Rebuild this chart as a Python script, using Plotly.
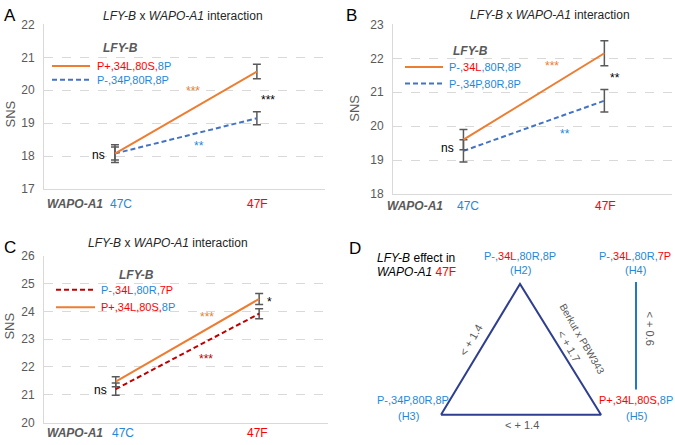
import plotly.graph_objects as go

W, H = 675, 445
FONT = "Arial, Liberation Sans, sans-serif"
BLUE_T = "#1F88D8"
RED_T = "#FF0000"
GRAY = "#595959"
ORANGE = "#ED7D31"
BLUE_L = "#4472C4"
DRED = "#C00000"
NAVY = "#2F3F8F"
DASH = "5px,3px"

# ---------------- data ----------------
genotypes = ["47C", "47F"]

# Panel A
a_pplus_mean = [18.08, 20.57]
a_pplus_err = [0.27, 0.22]
a_pminus_mean = [18.08, 19.15]
a_pminus_err = [0.2, 0.2]

# Panel B
b_34L_mean = [19.6, 22.15]
b_34L_err = [0.3, 0.37]
b_34P_mean = [19.27, 20.75]
b_34P_err = [0.33, 0.33]

# Panel C
c_7P_mean = [21.2, 23.92]
c_7P_err = [0.22, 0.18]
c_pplus_mean = [21.47, 24.45]
c_pplus_err = [0.18, 0.2]

# Panel D: haplotype network effects
effects = [1.4, 1.7, 1.4, 0.6]  # H3-H2, H2-H5, H3-H5, H4-H5


def px(x):
    return x / W


def py(y):
    return 1 - y / H


def sp(text, color):
    return f"<span style='color:{color}'>{text}</span>"


fig = go.Figure()

panels = [
    ("", 44, 325, 18, 188, [17, 22]),
    ("2", 393, 672, 18, 193, [18, 23]),
    ("3", 44, 328, 257, 429, [20, 26]),
]
layout_axes = {}
for suf, x0, x1, yt, yb, yr in panels:
    layout_axes["xaxis" + suf] = dict(
        domain=[px(x0), px(x1)], range=[-0.5, 1.48], type="category",
        showticklabels=False, showgrid=False, zeroline=False,
        showline=True, linecolor="#D9D9D9", linewidth=1, ticks="",
        anchor="y" + suf, fixedrange=True,
    )
    layout_axes["yaxis" + suf] = dict(
        domain=[py(yb), py(yt)], range=yr, dtick=1, tick0=0,
        showgrid=True, gridcolor="#D9D9D9", griddash="dash", gridwidth=1,
        zeroline=False, showline=True, linecolor="#D9D9D9", linewidth=1,
        ticks="", ticklabelstandoff=6,
        tickfont=dict(family=FONT, size=12, color=GRAY),
        anchor="x" + suf, fixedrange=True,
    )
layout_axes["xaxis4"] = dict(domain=[px(335), 1], range=[335, 675], visible=False,
                             anchor="y4", fixedrange=True)
layout_axes["yaxis4"] = dict(domain=[0, py(220)], range=[445, 220], visible=False,
                             anchor="x4", fixedrange=True)


def add_series(xa, ya, means, errs, color, dash):
    fig.add_trace(go.Scatter(
        x=genotypes, y=means, mode="lines", xaxis=xa, yaxis=ya,
        line=dict(color=color, width=2, dash=dash),
        error_y=dict(type="data", array=errs, visible=True, color=GRAY,
                     thickness=1.5, width=4),
        showlegend=False, hoverinfo="skip",
    ))


add_series("x", "y", a_pminus_mean, a_pminus_err, BLUE_L, DASH)
add_series("x", "y", a_pplus_mean, a_pplus_err, ORANGE, "solid")
add_series("x2", "y2", b_34P_mean, b_34P_err, BLUE_L, DASH)
add_series("x2", "y2", b_34L_mean, b_34L_err, ORANGE, "solid")
add_series("x3", "y3", c_7P_mean, c_7P_err, DRED, DASH)
add_series("x3", "y3", c_pplus_mean, c_pplus_err, ORANGE, "solid")

# Panel D network
tri_x = [441, 520, 601, 441]
tri_y = [421, 286, 421, 421]
fig.add_trace(go.Scatter(x=tri_x, y=tri_y, mode="lines", xaxis="x4", yaxis="y4",
                         line=dict(color=NAVY, width=2), showlegend=False,
                         hoverinfo="skip"))
fig.add_trace(go.Scatter(x=[636, 636], y=[284, 395], mode="lines", xaxis="x4",
                         yaxis="y4", line=dict(color="#1F78C8", width=2),
                         showlegend=False, hoverinfo="skip"))

ann = []
shapes = []


def text(x, y, t, size=12, color="#262626", xanchor="center", angle=0):
    ann.append(dict(x=px(x), y=py(y), xref="paper", yref="paper", text=t,
                    showarrow=False, xanchor=xanchor, yanchor="middle",
                    textangle=angle,
                    font=dict(family=FONT, size=size, color=color)))


def legline(x0, x1, y, color, dash):
    shapes.append(dict(type="line", xref="paper", yref="paper",
                       x0=px(x0), x1=px(x1), y0=py(y), y1=py(y),
                       line=dict(color=color, width=2, dash=dash)))


title = "<i>LFY-B</i> x <i>WAPO-A1</i> interaction"
lfy = "<b><i>LFY-B</i></b>"
wapo = "<b><i>WAPO-A1</i></b>"

lab_pplus = sp("P+,34L,80S,", RED_T) + sp("8P", BLUE_T)
lab_34P = sp("P-,34P,80R,8P", BLUE_T)
lab_34L = sp("P-,", BLUE_T) + sp("34L", RED_T) + sp(",80R,8P", BLUE_T)
lab_7P = sp("P-,", BLUE_T) + sp("34L", RED_T) + sp(",80R,", BLUE_T) + sp("7P", RED_T)

# ---- Panel A ----
text(10, 9, "A", size=17, color="#000000")
text(183, 9, title, size=12)
text(11, 110, "SNS", size=13, color=GRAY, angle=-90)
text(120, 42, lfy, size=12, color=GRAY)
legline(52, 90, 61, ORANGE, "solid")
text(95, 61, lab_pplus, size=11, xanchor="left")
legline(52, 90, 75, BLUE_L, DASH)
text(95, 75, lab_34P, size=11, xanchor="left")
text(193, 87, "***", size=12, color=ORANGE)
text(199, 143, "**", size=12, color=BLUE_T)
text(268, 96, "***", size=12, color="#000000")
text(98, 153, "ns", size=12, color="#000000")
text(75, 203, wapo, size=12, color=GRAY)
text(121, 203, "47C", size=12, color=BLUE_T)
text(257, 203, "47F", size=12, color=RED_T)

# ---- Panel B ----
text(352, 9, "B", size=17, color="#000000")
text(550, 8, title, size=12)
text(355, 105, "SNS", size=13, color=GRAY, angle=-90)
text(470, 45, lfy, size=12, color=GRAY)
legline(405, 443, 62, ORANGE, "solid")
text(447, 62, lab_34L, size=11, xanchor="left")
legline(405, 443, 79, BLUE_L, DASH)
text(447, 79, lab_34P, size=11, xanchor="left")
text(552, 61, "***", size=12, color=ORANGE)
text(615, 73, "**", size=12, color="#000000")
text(565, 131, "**", size=12, color=BLUE_T)
text(447, 146, "ns", size=12, color="#000000")
text(415, 205, wapo, size=12, color=GRAY)
text(468, 205, "47C", size=12, color=BLUE_T)
text(605, 205, "47F", size=12, color=RED_T)

# ---- Panel C ----
text(10, 248, "C", size=17, color="#000000")
text(168, 244, title, size=12)
text(10, 330, "SNS", size=13, color=GRAY, angle=-90)
text(136, 277, lfy, size=12, color=GRAY)
legline(56, 95, 292, DRED, DASH)
text(99, 292, lab_7P, size=11, xanchor="left")
legline(56, 95, 310, ORANGE, "solid")
text(99, 310, lab_pplus, size=11, xanchor="left")
text(207, 320, "***", size=12, color=ORANGE)
text(206, 363, "***", size=12, color=DRED)
text(269, 305, "*", size=12, color="#000000")
text(100, 395, "ns", size=12, color="#000000")
text(75, 440, wapo, size=12, color=GRAY)
text(123, 440, "47C", size=12, color=BLUE_T)
text(257, 440, "47F", size=12, color=RED_T)

# ---- Panel D ----
text(355, 249, "D", size=17, color="#000000")
text(375, 259, "<i>LFY-B</i> effect in", size=12, color="#000000", xanchor="left")
text(375, 274, "<i>WAPO-A1</i> " + sp("47F", RED_T), size=12, color="#000000",
     xanchor="left")
text(520, 257, lab_34L, size=11)
text(520, 272, sp("(H2)", BLUE_T), size=11)
text(635, 257, lab_7P, size=11)
text(635, 272, sp("(H4)", BLUE_T), size=11)
text(413, 406, lab_34P, size=11)
text(408, 422, sp("(H3)", BLUE_T), size=11)
text(636, 406, lab_pplus, size=11)
text(636, 422, sp("(H5)", BLUE_T), size=11)
text(471, 344, f"< + {effects[0]}", size=11, color=GRAY, angle=-60)
text(582, 342, "Berkut x PBW343", size=10, color=GRAY, angle=60)
text(569, 350, f"< + {effects[1]}", size=11, color=GRAY, angle=60)
text(522, 432, f"< + {effects[2]}", size=11, color=GRAY)
text(650, 332, f"< + {effects[3]}", size=11, color=GRAY, angle=90)

fig.update_layout(
    width=W, height=H, margin=dict(l=0, r=0, t=0, b=0),
    paper_bgcolor="white", plot_bgcolor="white",
    showlegend=False, annotations=ann, shapes=shapes,
    font=dict(family=FONT),
    **layout_axes,
)

fig.write_html("out.html",
               config={"displayModeBar": False, "staticPlot": True},
               post_script="document.body.style.margin='0';"
                           "document.body.style.overflow='hidden';")
